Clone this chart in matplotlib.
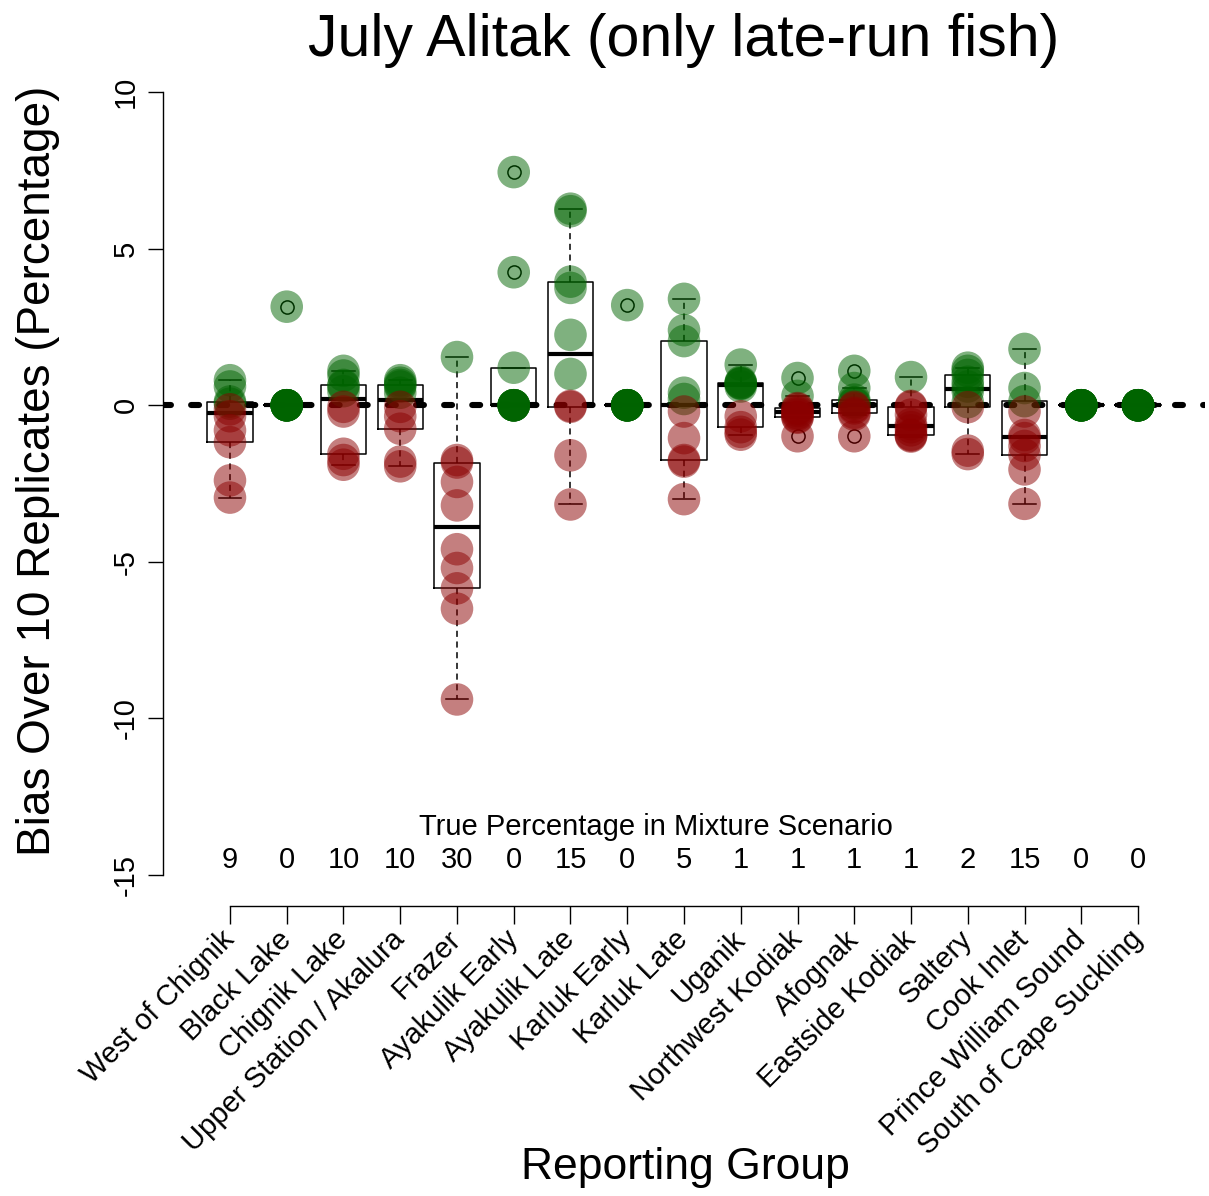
import numpy as np
import matplotlib
matplotlib.use("Agg")
import matplotlib.pyplot as plt

plt.rcParams['font.family'] = ['Liberation Sans', 'DejaVu Sans']

groups = ["West of Chignik", "Black Lake", "Chignik Lake", "Upper Station / Akalura",
          "Frazer", "Ayakulik Early", "Ayakulik Late", "Karluk Early", "Karluk Late",
          "Uganik", "Northwest Kodiak", "Afognak", "Eastside Kodiak", "Saltery",
          "Cook Inlet", "Prince William Sound", "South of Cape Suckling"]
true_pct = [9, 0, 10, 10, 30, 0, 15, 0, 5, 1, 1, 1, 1, 2, 15, 0, 0]

west_of_chignik = [0.8, 0.6, 0.12, 0.05, -0.13, -0.35, -0.8, -1.18, -2.4, -2.95]
black_lake = [3.15, 0, 0, 0, 0, 0, 0, 0, 0, 0]
chignik_lake = [1.1, 0.95, 0.65, 0.61, 0.45, -0.05, -0.2, -1.55, -1.75, -1.9]
upper_station = [0.8, 0.72, 0.65, 0.6, 0.4, -0.05, -0.35, -0.75, -1.8, -1.95]
frazer = [1.54, -1.75, -1.83, -2.45, -3.2, -4.6, -5.2, -5.85, -6.5, -9.4]
ayakulik_early = [7.45, 4.25, 1.2, 0, 0, 0, 0, 0, 0, 0]
ayakulik_late = [6.28, 6.2, 3.95, 3.75, 2.25, 1.0, -0.02, -0.05, -1.6, -3.17]
karluk_early = [3.2, 0, 0, 0, 0, 0, 0, 0, 0, 0]
karluk_late = [3.4, 2.4, 2.05, 0.4, 0.2, -0.2, -1.05, -1.75, -1.8, -3.0]
uganik = [1.3, 0.75, 0.71, 0.7, 0.68, 0.6, -0.35, -0.7, -0.85, -0.94]
northwest_kodiak = [0.87, 0.3, -0.09, -0.12, -0.18, -0.25, -0.3, -0.37, -0.4, -0.99]
afognak = [1.1, 0.55, 0.18, 0.1, 0.05, -0.05, -0.1, -0.24, -0.3, -0.99]
eastside_kodiak = [0.9, -0.02, -0.05, -0.3, -0.6, -0.7, -0.8, -0.94, -0.97, -1.0]
saltery = [1.2, 1.1, 0.97, 0.75, 0.6, 0.45, 0.1, -0.06, -1.45, -1.56]
cook_inlet = [1.8, 0.55, 0.13, -0.2, -0.95, -1.05, -1.3, -1.58, -2.05, -3.15]
prince_william_sound = [0] * 10
south_of_cape_suckling = [0] * 10

bias = [west_of_chignik, black_lake, chignik_lake, upper_station, frazer,
        ayakulik_early, ayakulik_late, karluk_early, karluk_late, uganik,
        northwest_kodiak, afognak, eastside_kodiak, saltery, cook_inlet,
        prince_william_sound, south_of_cape_suckling]


def fivenum(x):
    x = np.sort(np.asarray(x, float))
    n = len(x)
    n4 = np.floor((n + 3) / 2) / 2
    d = np.array([1, n4, (n + 1) / 2, n + 1 - n4, n]) - 1
    return 0.5 * (x[np.floor(d).astype(int)] + x[np.ceil(d).astype(int)])


def r_boxstats(x):
    x = np.asarray(x, float)
    lo, q1, med, q3, hi = fivenum(x)
    iqr = q3 - q1
    out = (x < q1 - 1.5 * iqr) | (x > q3 + 1.5 * iqr)
    inside = x[~out]
    return dict(med=med, q1=q1, q3=q3, whislo=inside.min(), whishi=inside.max(),
                fliers=x[out])


W, H = 1209, 1196
fig = plt.figure(figsize=(W / 100, H / 100), dpi=100)
ax = fig.add_axes([163 / W, 1 - 906 / H, (1205 - 163) / W, (906 - 61) / H])
ax.set_xlim(-0.18, 18.18)
ax.set_ylim(-16, 11)

pos = np.arange(1, len(groups) + 1)

# zero reference line
ax.axhline(0, color='black', lw=4.4, dashes=(1.3, 3.3), dash_capstyle='round', zorder=1)

# boxplots (R style)
stats = [r_boxstats(b) for b in bias]
ax.bxp(stats, positions=pos, widths=0.8, showfliers=True, patch_artist=False,
       boxprops=dict(color='black', lw=1.1),
       medianprops=dict(color='black', lw=3.0, solid_capstyle='butt'),
       whiskerprops=dict(color='black', lw=1.1, linestyle=(0, (4, 3))),
       capprops=dict(color='black', lw=1.1),
       flierprops=dict(marker='o', markerfacecolor='none', markeredgecolor='black',
                       markersize=9.5, markeredgewidth=1.1),
       zorder=2)

# points
for p, b in zip(pos, bias):
    b = np.asarray(b, float)
    cols = np.where(b >= 0, '#006400', '#8B0000')
    ax.scatter(np.full(len(b), p), b, s=550, c=list(cols), alpha=0.5,
               edgecolors='none', zorder=3)

# axes styling
for s in ['top', 'right']:
    ax.spines[s].set_visible(False)
ax.spines['left'].set_bounds(-15, 10)
ax.spines['bottom'].set_bounds(1, 17)
ax.spines['left'].set_linewidth(1.0)
ax.spines['bottom'].set_linewidth(1.0)

yt = [-15, -10, -5, 0, 5, 10]
ax.set_yticks(yt)
ax.set_yticklabels([str(v) for v in yt], rotation=90, va='center', fontsize=21)
ax.tick_params(axis='y', length=11, width=1.0, pad=6)

ax.set_xticks(pos)
ax.set_xticklabels(groups, rotation=45, ha='right', va='center',
                   rotation_mode='anchor', fontsize=21)
ax.tick_params(axis='x', length=13, width=1.0, pad=8)

# true percentages
ax.text(8.5, -13.48, "True Percentage in Mixture Scenario", ha='center', va='center',
        fontsize=21)
for p, t in zip(pos, true_pct):
    ax.text(p, -14.54, str(t), ha='center', va='center', fontsize=21)

fig.text(684 / W, 1 - 40 / H, "July Alitak (only late-run fish)", ha='center',
         va='center', fontsize=42.5)
fig.text(38 / W, 1 - 471 / H, "Bias Over 10 Replicates (Percentage)", ha='center',
         va='center', rotation=90, fontsize=33)
fig.text(685 / W, 1 - 1168 / H, "Reporting Group", ha='center', va='center',
         fontsize=32)

fig.savefig("out.png", dpi=100)
